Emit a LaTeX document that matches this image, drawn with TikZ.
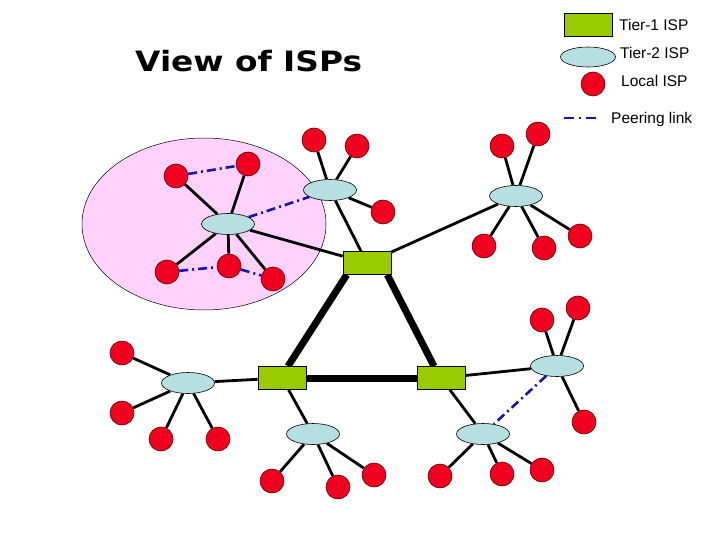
\documentclass[tikz,border=0pt]{standalone}
\usepackage{fontspec}
\usepackage{graphicx}
\setmainfont{Liberation Sans}
\newfontfamily\titlefont{DejaVu Sans}
\usetikzlibrary{shapes.geometric,backgrounds}
\definecolor{t1green}{RGB}{153,204,0}
\definecolor{t2blue}{RGB}{183,222,224}
\definecolor{locred}{RGB}{240,0,30}
\definecolor{locedge}{RGB}{90,0,0}
\definecolor{peerblue}{RGB}{20,20,190}
\definecolor{pinkfill}{RGB}{255,210,252}
\begin{document}
\begin{tikzpicture}[x=1pt,y=-1pt,
 t1/.style={draw=black, fill=t1green, rectangle, minimum width=48pt, minimum height=23pt, inner sep=0pt, line width=0.6pt},
 t2/.style={draw=black, fill=t2blue, ellipse, minimum width=53pt, minimum height=21pt, inner sep=0pt, line width=0.6pt},
 loc/.style={draw=locedge, fill=locred, circle, minimum size=24pt, inner sep=0pt, line width=0.6pt},
 link/.style={line width=2.8pt, black},
 trunk/.style={line width=7pt, black},
 peer/.style={line width=2.6pt, peerblue, dash pattern=on 9pt off 4pt on 2pt off 4pt},
 lbl/.style={anchor=base west, inner sep=0pt, font=\fontsize{15.5}{17}\selectfont}]
\useasboundingbox (0,0) rectangle (720,540);
% title
\node[anchor=base west, inner sep=0pt, font=\titlefont\bfseries\fontsize{28}{30}\selectfont] (title) at (135,72) {\scalebox{1.17}[1]{View of ISPs}};
% legend
\node[t1] (lg1) at (588,25) {};
\node[lbl] (lg1t) at (619,31) {Tier-1 ISP};
\node[t2, minimum width=55pt, minimum height=20pt] (lg2) at (588,57) {};
\node[lbl] (lg2t) at (620,59) {Tier-2 ISP};
\node[loc] (lg3) at (593,84) {};
\node[lbl] (lg3t) at (621,87) {Local ISP};
\coordinate (lg4a) at (564,118);
\coordinate (lg4b) at (599,118);
\node[lbl] (lg4t) at (611,124) {Peering link};
% tier-1
\node[t1] (A) at (367,263) {};
\node[t1] (B) at (282,378) {};
\node[t1] (C) at (441,378) {};
% tier-2
\node[t2] (Ein) at (228,224) {};
\node[t2] (Etop) at (330,190) {};
\node[t2] (Etr) at (516,196) {};
\node[t2] (Ele) at (188,383) {};
\node[t2] (Eb1) at (313,434) {};
\node[t2] (Eb2) at (483,434) {};
\node[t2] (Eri) at (557,366) {};
% local ISPs
\node[loc] (p1) at (176,176) {};
\node[loc] (p2) at (248,164) {};
\node[loc] (p3) at (167,272) {};
\node[loc] (p4) at (229,266) {};
\node[loc] (p5) at (273,279) {};
\node[loc] (q1) at (314,140) {};
\node[loc] (q2) at (357,146) {};
\node[loc] (q3) at (383,212) {};
\node[loc] (r1) at (502,146) {};
\node[loc] (r2) at (538,134) {};
\node[loc] (r3) at (484,246) {};
\node[loc] (r4) at (544,248) {};
\node[loc] (r5) at (580,236) {};
\node[loc] (s1) at (122,353) {};
\node[loc] (s2) at (122,413) {};
\node[loc] (s3) at (161,439) {};
\node[loc] (s4) at (218,439) {};
\node[loc] (u1) at (272,481) {};
\node[loc] (u2) at (338,487) {};
\node[loc] (u3) at (374,475) {};
\node[loc] (v1) at (440,476) {};
\node[loc] (v2) at (502,474) {};
\node[loc] (v3) at (542,470) {};
\node[loc] (w1) at (542,320) {};
\node[loc] (w2) at (578,308) {};
\node[loc] (w3) at (584,422) {};
\begin{pgfonlayer}{background}
\draw[fill=pinkfill, line width=0.5pt] (204,224) ellipse [x radius=122pt, y radius=86pt];
% backbone
\draw[trunk] ([xshift=4pt]A.south west) -- ([xshift=6pt]B.north);
\draw[trunk] ([xshift=-4pt]A.south east) -- ([xshift=-7pt]C.north);
\draw[trunk] (B) -- (C);
% tier-2 to tier-1
\draw[link] (Ein) -- (A);
\draw[link] (Etop) -- (A);
\draw[link] (Etr) -- (A);
\draw[link] (Ele) -- (B);
\draw[link] (Eb1) -- (B);
\draw[link] (Eb2) -- (C);
\draw[link] (Eri) -- (C);
% local to tier-2
\foreach \p in {p1,p2,p3,p4,p5} \draw[link] (Ein) -- (\p);
\foreach \p in {q1,q2,q3} \draw[link] (Etop) -- (\p);
\foreach \p in {r1,r2,r3,r4,r5} \draw[link] (Etr) -- (\p);
\foreach \p in {s1,s2,s3,s4} \draw[link] (Ele) -- (\p);
\foreach \p in {u1,u2,u3} \draw[link] (Eb1) -- (\p);
\foreach \p in {v1,v2,v3} \draw[link] (Eb2) -- (\p);
\foreach \p in {w1,w2,w3} \draw[link] (Eri) -- (\p);
% peering
\draw[peer] (p1) -- (p2);
\draw[peer] (p3) -- (p4);
\draw[peer] (p4) -- (p5);
\draw[peer] (Ein) -- (Etop);
\draw[peer] (Eri) -- (Eb2);
\draw[peer, dash pattern=on 10pt off 5pt on 2pt off 5pt] (lg4a) -- (lg4b);
\end{pgfonlayer}
\end{tikzpicture}
\end{document}
